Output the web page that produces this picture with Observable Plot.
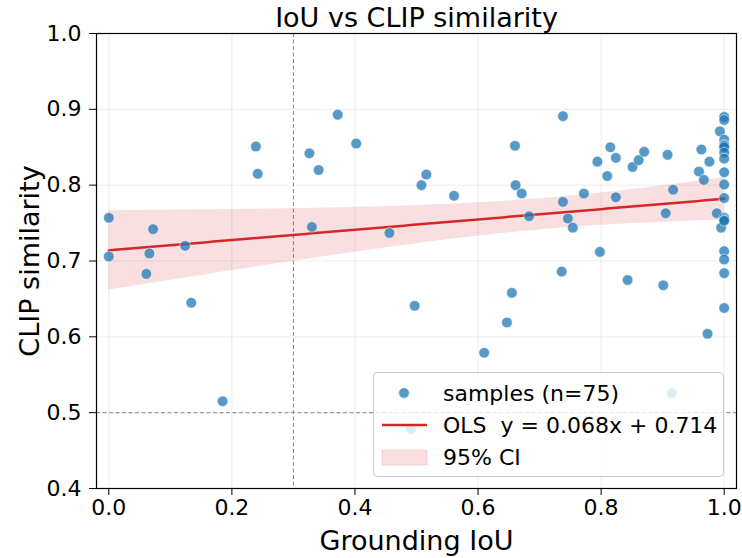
<!DOCTYPE html>
<html>
<head>
<meta charset="utf-8">
<script src="https://cdn.jsdelivr.net/npm/d3@7"></script>
<script src="https://cdn.jsdelivr.net/npm/@observablehq/plot@0.6"></script>
<style>
  html, body { margin: 0; padding: 0; background: #fff; }
  #chart { width: 742px; height: 558px; }
</style>
</head>
<body>
<div id="chart"></div>
<script>
// ---- data ----
const iou = [
  0.000, 0.000, 0.061, 0.066, 0.072, 0.124, 0.134, 0.185, 0.239, 0.242,
  0.326, 0.330, 0.341, 0.372, 0.402, 0.456, 0.491, 0.497, 0.508, 0.516,
  0.561, 0.610, 0.647, 0.655, 0.660, 0.661, 0.671, 0.683, 0.736, 0.738,
  0.738, 0.746, 0.754, 0.772, 0.794, 0.798, 0.810, 0.815, 0.824, 0.824,
  0.843, 0.851, 0.861, 0.870, 0.901, 0.905, 0.908, 0.915, 0.917, 0.959,
  0.963, 0.967, 0.973, 0.976, 0.988, 0.993, 0.995,
  1.000, 1.000, 1.000, 1.000, 1.000, 1.000, 1.000, 1.000, 1.000, 1.000,
  1.000, 1.000, 1.000, 1.000, 1.000, 1.000, 1.000, 1.000
];
const clip = [
  0.757, 0.706, 0.683, 0.710, 0.742, 0.720, 0.645, 0.515, 0.851, 0.815,
  0.842, 0.745, 0.820, 0.893, 0.855, 0.737, 0.478, 0.641, 0.800, 0.814,
  0.786, 0.579, 0.619, 0.658, 0.852, 0.800, 0.789, 0.759, 0.686, 0.891,
  0.778, 0.756, 0.744, 0.789, 0.831, 0.712, 0.812, 0.850, 0.836, 0.784,
  0.675, 0.824, 0.833, 0.844, 0.668, 0.763, 0.840, 0.526, 0.794, 0.818,
  0.847, 0.807, 0.604, 0.831, 0.763, 0.871, 0.744,
  0.890, 0.886, 0.860, 0.853, 0.852, 0.850, 0.843, 0.835, 0.817, 0.801,
  0.783, 0.757, 0.754, 0.753, 0.713, 0.702, 0.684, 0.638
];
const olsSlope = 0.068;
const olsIntercept = 0.714;
const xTicks = [0.0, 0.2, 0.4, 0.6, 0.8, 1.0];
const yTicks = [0.4, 0.5, 0.6, 0.7, 0.8, 0.9, 1.0];
const thresholdX = [0.3];
const thresholdY = [0.5];
const tCrit = 1.993; // t(0.975, df = 73)

// ---- derived tables ----
const samples = iou.map((x, i) => ({x, y: clip[i]}));
const n = samples.length;
const xbar = d3.mean(iou);
const sxx = d3.sum(iou, x => (x - xbar) ** 2);
const sse = d3.sum(samples, d => (d.y - (olsIntercept + olsSlope * d.x)) ** 2);
const s = Math.sqrt(sse / (n - 2));
const grid = d3.range(0, 101).map(i => i / 100);
const fit = grid.map(x => {
  const yhat = olsIntercept + olsSlope * x;
  const se = s * Math.sqrt(1 / n + (x - xbar) ** 2 / sxx);
  return {x, y: yhat, lo: yhat - tCrit * se, hi: yhat + tCrit * se};
});

const red = "#d62728";
const blue = "#1f77b4";
const font = "DejaVu Sans, sans-serif";

const chart = Plot.plot({
  width: 742,
  height: 558,
  marginLeft: 96,
  marginRight: 6,
  marginTop: 33,
  marginBottom: 70,
  style: {fontFamily: font, fontSize: "22px", background: "#fff", color: "#000"},
  x: {domain: [-0.02, 1.02], label: null},
  y: {domain: [0.4, 1.0], label: null},
  marks: [
    Plot.gridX(xTicks, {stroke: "#b0b0b0", strokeOpacity: 0.3, strokeWidth: 0.8}),
    Plot.gridY(yTicks, {stroke: "#b0b0b0", strokeOpacity: 0.3, strokeWidth: 0.8}),
    Plot.ruleX(thresholdX, {stroke: "#888", strokeWidth: 1, strokeDasharray: "4,2.5"}),
    Plot.ruleY(thresholdY, {stroke: "#888", strokeWidth: 1, strokeDasharray: "4,2.5"}),
    Plot.areaY(fit, {x: "x", y1: "lo", y2: "hi", fill: red, fillOpacity: 0.15}),
    Plot.line(fit, {x: "x", y: "y", stroke: red, strokeWidth: 2.5}),
    Plot.dot(samples, {x: "x", y: "y", r: 5.3, fill: blue, fillOpacity: 0.75, stroke: "#fff", strokeWidth: 0.5}),
    Plot.frame({stroke: "#000", strokeWidth: 1.2}),
    Plot.axisX(xTicks, {tickSize: 7, tickPadding: 4, tickFormat: d3.format(".1f"), fontSize: 22, label: null}),
    Plot.axisY(yTicks, {tickSize: 7, tickPadding: 8, tickFormat: d3.format(".1f"), fontSize: 22, label: null}),
    Plot.text(["IoU vs CLIP similarity"], {frameAnchor: "top", dy: -15, lineAnchor: "middle", fontSize: 27}),
    Plot.text(["Grounding IoU"], {frameAnchor: "bottom", dy: 53, lineAnchor: "middle", fontSize: 27}),
    Plot.text(["CLIP similarity"], {frameAnchor: "left", dx: -66, rotate: -90, textAnchor: "middle", lineAnchor: "middle", fontSize: 27})
  ]
});
document.getElementById("chart").appendChild(chart);

// ---- legend (drawn into the svg, lower right of plot area) ----
const svg = d3.select(chart);
const lg = svg.append("g").attr("font-family", font).attr("font-size", 22).attr("text-anchor", "start");
lg.append("rect").attr("x", 373.5).attr("y", 372.5).attr("width", 350).attr("height", 104)
  .attr("rx", 4).attr("fill", "#fff").attr("fill-opacity", 0.8).attr("stroke", "#ccc").attr("stroke-width", 1);
const rows = [
  {label: "samples (n=75)", kind: "dot"},
  {label: "OLS  y = " + olsSlope.toFixed(3) + "x + " + olsIntercept.toFixed(3), kind: "line"},
  {label: "95% CI", kind: "patch"}
];
rows.forEach((r, i) => {
  const cy = 393 + i * 32;
  if (r.kind === "dot") {
    lg.append("circle").attr("cx", 404).attr("cy", cy).attr("r", 5.3)
      .attr("fill", blue).attr("fill-opacity", 0.75).attr("stroke", "#fff").attr("stroke-width", 0.5);
  } else if (r.kind === "line") {
    lg.append("line").attr("x1", 382).attr("x2", 427).attr("y1", cy).attr("y2", cy)
      .attr("stroke", red).attr("stroke-width", 2.5);
  } else {
    lg.append("rect").attr("x", 382).attr("y", cy - 7).attr("width", 45).attr("height", 15)
      .attr("fill", red).attr("fill-opacity", 0.15).attr("stroke", red).attr("stroke-opacity", 0.15);
  }
  lg.append("text").attr("x", 443).attr("y", cy).attr("dy", "0.35em").attr("text-anchor", "start").text(r.label);
});
</script>
</body>
</html>
